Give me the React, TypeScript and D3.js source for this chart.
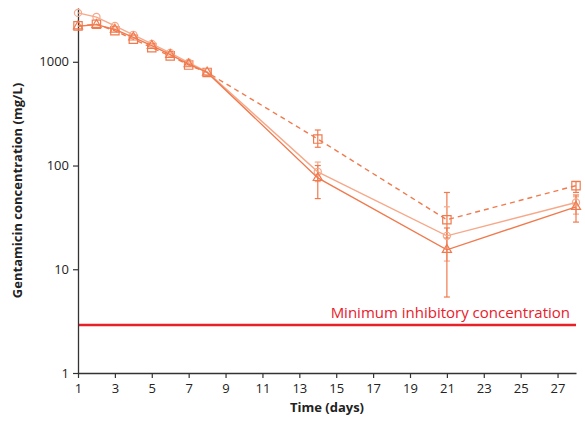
import React, { useEffect, useRef } from 'react';
import * as d3 from 'd3';

// days sampled
const days = [1, 2, 3, 4, 5, 6, 7, 8, 14, 21, 28];

// series values (mg/L)
const seriesCircle = [2960, 2700, 2220, 1820, 1490, 1220, 980, 800, 87, 21, 44];
const seriesTriangle = [2200, 2280, 2050, 1720, 1430, 1170, 950, 790, 76, 15.4, 40];
const seriesSquare = [2220, 2300, 1990, 1650, 1370, 1140, 930, 790, 180, 30, 64];

// error bar ranges [low, high] per day for selected points
const errDays = [14, 21, 28];
const errSquare = [[150, 220], [20, 55], [55, 70]];
const errCircle = [[70, 108], [12, 40], [34, 50]];
const errTriangle = [[48, 100], [5.4, 25], [28.5, 52]];

const micValue = 2.9;
const xTicks = [1, 3, 5, 7, 9, 11, 13, 15, 17, 19, 21, 23, 25, 27];
const yTicks = [1, 10, 100, 1000];

const W = 585;
const H = 426;
const margin = { top: 8, right: 9, bottom: 53, left: 78 };

const App = () => {
  const svgRef = useRef<SVGSVGElement>(null);

  useEffect(() => {
    const svg = d3.select(svgRef.current);
    svg.selectAll('*').remove();

    const x = d3.scaleLinear().domain([1, 28]).range([margin.left, W - margin.right]);
    const y = d3.scaleLog().domain([1, 3300]).range([H - margin.bottom, margin.top]);

    const font = '"Open Sans", "Noto Sans", sans-serif';
    const axisColor = '#333';
    const orange = '#f07a4e';
    const lightOrange = '#f6a98a';

    // MIC line
    svg.append('line')
      .attr('x1', x(1)).attr('x2', x(28))
      .attr('y1', y(micValue)).attr('y2', y(micValue))
      .attr('stroke', '#e8202a').attr('stroke-width', 2.5);
    svg.append('text')
      .attr('x', x(28) - 6).attr('y', y(micValue) - 7)
      .attr('text-anchor', 'end')
      .attr('font-family', font).attr('font-size', 15)
      .attr('fill', '#e8202a')
      .text('Minimum inhibitory concentration');

    // axes
    const yAxis = svg.append('g').attr('transform', `translate(${margin.left},0)`)
      .call(d3.axisLeft(y).tickValues(yTicks).tickFormat(d3.format('d')).tickSize(5).tickSizeOuter(0));
    const xAxis = svg.append('g').attr('transform', `translate(0,${H - margin.bottom})`)
      .call(d3.axisBottom(x).tickValues(xTicks).tickFormat(d3.format('d')).tickSize(5).tickSizeOuter(0));
    [xAxis, yAxis].forEach(g => {
      g.select('.domain').attr('stroke', axisColor).attr('stroke-width', 1.3);
      g.selectAll('.tick line').attr('stroke', axisColor).attr('stroke-width', 1.2);
      g.selectAll('.tick text').attr('font-family', font).attr('font-size', 13).attr('fill', '#222');
    });
    xAxis.selectAll('.tick text').attr('dy', '0.95em');
    yAxis.selectAll('.tick text').attr('dx', '-1px');

    svg.append('text')
      .attr('x', (x(1) + x(28)) / 2).attr('y', H - 14)
      .attr('text-anchor', 'middle')
      .attr('font-family', font).attr('font-size', 13).attr('font-weight', 'bold')
      .attr('fill', '#222')
      .text('Time (days)');
    svg.append('text')
      .attr('transform', `translate(22,${(y(1) + y(3300)) / 2}) rotate(-90)`)
      .attr('text-anchor', 'middle')
      .attr('font-family', font).attr('font-size', 13).attr('font-weight', 'bold')
      .attr('fill', '#222')
      .text('Gentamicin concentration (mg/L)');

    // error bars
    const drawErr = (ranges: number[][], color: string) => {
      ranges.forEach((r, i) => {
        const cx = x(errDays[i]);
        const g = svg.append('g').attr('stroke', color).attr('stroke-width', 1.2);
        g.append('line').attr('x1', cx).attr('x2', cx).attr('y1', y(r[0])).attr('y2', y(r[1]));
        r.forEach(v => g.append('line').attr('x1', cx - 3).attr('x2', cx + 3).attr('y1', y(v)).attr('y2', y(v)));
      });
    };
    drawErr(errSquare, orange);
    drawErr(errCircle, lightOrange);
    drawErr(errTriangle, orange);

    const line = d3.line<number>().x((_, i) => x(days[i])).y(d => y(d));

    const drawSeries = (vals: number[], color: string, dash: string | null, symbol: d3.SymbolType, size: number) => {
      svg.append('path')
        .attr('d', line(vals))
        .attr('fill', 'none')
        .attr('stroke', color)
        .attr('stroke-width', 1.4)
        .attr('stroke-dasharray', dash);
      svg.append('g').selectAll('path')
        .data(vals)
        .join('path')
        .attr('transform', (d, i) => `translate(${x(days[i])},${y(d)})`)
        .attr('d', d3.symbol().type(symbol).size(size)())
        .attr('fill', 'none')
        .attr('stroke', color)
        .attr('stroke-width', 1.2);
    };
    drawSeries(seriesSquare, orange, '5,4', d3.symbolSquare, 70);
    drawSeries(seriesCircle, lightOrange, null, d3.symbolCircle, 40);
    drawSeries(seriesTriangle, orange, null, d3.symbolTriangle, 36);
  }, []);

  return (
    <svg ref={svgRef} width={W} height={H}
      style={{ position: 'absolute', left: 0, top: 0, background: '#fff' }} />
  );
};

export default App;
